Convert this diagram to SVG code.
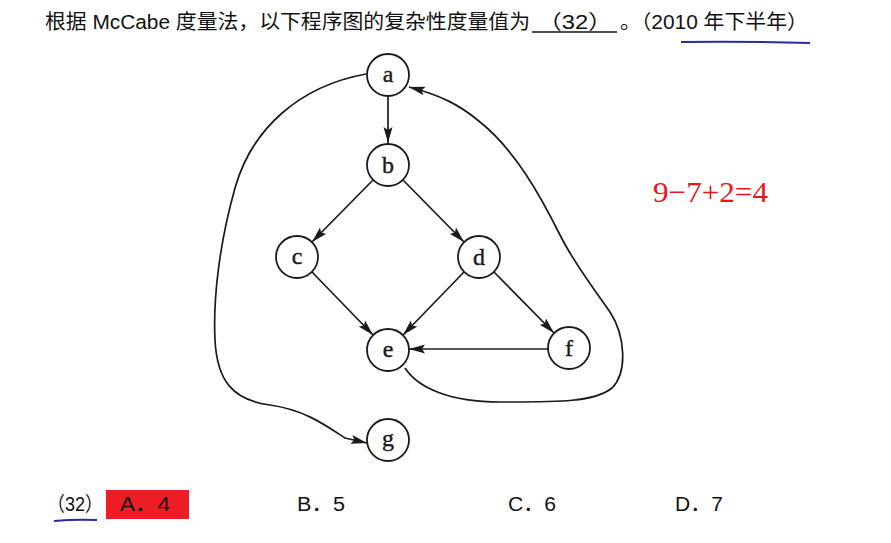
<svg xmlns="http://www.w3.org/2000/svg" width="891" height="543" viewBox="0 0 891 543">
<style>
.t{font-family:"Liberation Sans","Noto Sans CJK SC",sans-serif;font-size:20px;fill:#111}
.n circle{fill:#fff;stroke:#1a1a1a;stroke-width:1.8}
.n text{font-family:"Liberation Serif",serif;font-size:24px;fill:#1a1a1a;stroke:#1a1a1a;stroke-width:0.4;text-anchor:middle}
.e{fill:none;stroke:#1a1a1a;stroke-width:1.7}
</style>
<defs>
<marker id="ah" viewBox="0 0 16 10" refX="16" refY="5" markerWidth="16" markerHeight="10" markerUnits="userSpaceOnUse" orient="auto">
<path d="M0,0.5 L16,5 L0,9.5 L3,5 Z" fill="#1a1a1a"/>
</marker>
</defs>
<rect width="891" height="543" fill="#fff"/>
<text class="t" x="45" y="29" textLength="485" lengthAdjust="spacingAndGlyphs">根据 McCabe 度量法，以下程序图的复杂性度量值为</text>
<text class="t" x="538" y="29" textLength="74" lengthAdjust="spacingAndGlyphs">（32）</text>
<line x1="532" y1="32" x2="617" y2="32" stroke="#111" stroke-width="1.6"/>
<text class="t" x="620" y="29" textLength="188" lengthAdjust="spacingAndGlyphs">。（2010 年下半年）</text>
<path d="M681,42 Q745,41 810,43" fill="none" stroke="#2b2ba0" stroke-width="2"/>
<text x="653" y="202" font-family="Liberation Serif,serif" font-size="30" fill="#e8141c" textLength="115" lengthAdjust="spacingAndGlyphs">9−7+2=4</text>
<g id="connectors">
<path class="e" marker-end="url(#ah)" d="M388,96 L388,143"/>
<path class="e" marker-end="url(#ah)" d="M373,180 L312,242"/>
<path class="e" marker-end="url(#ah)" d="M403,180 L464,242"/>
<path class="e" marker-end="url(#ah)" d="M312,272 L373,335"/>
<path class="e" marker-end="url(#ah)" d="M464,272 L403,335"/>
<path class="e" marker-end="url(#ah)" d="M494,272 L554,333"/>
<path class="e" marker-end="url(#ah)" d="M548,349 L409,349"/>
<path class="e" marker-end="url(#ah)" d="M366,74 C300,86 252,128 235,188 C219,245 213,300 215,340 C217,380 232,400 270,405 C305,410 325,425 345,438 L367,443"/>
<path class="e" marker-end="url(#ah)" d="M405,368 C418,388 450,402 500,402 C560,402 595,402 612,388 C628,372 625,335 610,312 C595,290 575,265 560,235 C540,195 515,150 480,122 C460,105 440,95 409,87"/>
</g>
<g id="a" class="n"><circle cx="388" cy="75" r="21"/><text x="388" y="82">a</text></g>
<g id="b" class="n"><circle cx="388" cy="165" r="21"/><text x="388" y="173">b</text></g>
<g id="c" class="n"><circle cx="297" cy="257" r="21"/><text x="297" y="264">c</text></g>
<g id="d" class="n"><circle cx="479" cy="257" r="21"/><text x="479" y="265">d</text></g>
<g id="e" class="n"><circle cx="388" cy="350" r="21"/><text x="388" y="357">e</text></g>
<g id="f" class="n"><circle cx="569" cy="348" r="21"/><text x="569" y="356">f</text></g>
<g id="g" class="n"><circle cx="388" cy="440" r="21"/><text x="388" y="446">g</text></g>
<text class="t" x="47" y="511" textLength="56" lengthAdjust="spacingAndGlyphs">（32）</text>
<rect x="106" y="490" width="83" height="29" fill="#ee1c25"/>
<text class="t" x="120" y="511" textLength="50" lengthAdjust="spacingAndGlyphs">A．4</text>
<text class="t" x="297" y="511" textLength="48" lengthAdjust="spacingAndGlyphs">B．5</text>
<text class="t" x="508" y="511" textLength="48" lengthAdjust="spacingAndGlyphs">C．6</text>
<text class="t" x="675" y="511" textLength="48" lengthAdjust="spacingAndGlyphs">D．7</text>
<path d="M54,521 Q75,519 97,520" fill="none" stroke="#2b2ba0" stroke-width="2"/>
</svg>
